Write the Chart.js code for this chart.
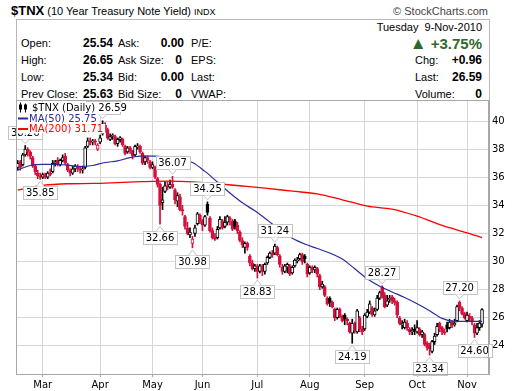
<!DOCTYPE html>
<html>
<head>
<meta charset="utf-8">
<script src="https://cdn.jsdelivr.net/npm/chart.js@4.4.0/dist/chart.umd.min.js"></script>
<style>
  body { margin: 0; background: #fff; }
  #wrap { position: relative; width: 520px; height: 391px; overflow: hidden; font-family: "Liberation Sans", Arial, sans-serif; color: #000; }
  #chart { position: absolute; left: 0; top: 0; z-index: 2; }
  .t { position: absolute; white-space: nowrap; font-size: 11px; line-height: 13px; }
  .v { position: absolute; white-space: nowrap; font-size: 12px; line-height: 13px; font-weight: bold; text-align: right; }
  #box { position: absolute; left: 16px; top: 19px; width: 474px; height: 82px; box-sizing: border-box; border: 1px solid #b8b8b8; }
</style>
</head>
<body>
<div id="wrap">
  <div class="t" style="left:11px;top:3px;line-height:15px;"><b style="font-size:13px;">$TNX</b> (10 Year Treasury Note Yield) <span style="font-size:9px;">INDX</span></div>
  <div class="t" style="right:32px;top:5px;color:#444;">&copy; StockCharts.com</div>
  <div id="box"></div>

  <div class="t" style="left:21px;top:37px;">Open:</div>
  <div class="t" style="left:21px;top:54px;">High:</div>
  <div class="t" style="left:21px;top:71px;">Low:</div>
  <div class="t" style="left:21px;top:88px;">Prev Close:</div>
  <div class="v" style="right:407px;top:37px;">25.54</div>
  <div class="v" style="right:407px;top:54px;">26.65</div>
  <div class="v" style="right:407px;top:71px;">25.34</div>
  <div class="v" style="right:407px;top:88px;">25.63</div>

  <div class="t" style="left:118px;top:37px;">Ask:</div>
  <div class="t" style="left:118px;top:54px;">Ask Size:</div>
  <div class="t" style="left:118px;top:71px;">Bid:</div>
  <div class="t" style="left:118px;top:88px;">Bid Size:</div>
  <div class="v" style="right:336px;top:37px;">0.00</div>
  <div class="v" style="right:338px;top:54px;">0</div>
  <div class="v" style="right:336px;top:71px;">0.00</div>
  <div class="v" style="right:338px;top:88px;">0</div>

  <div class="t" style="left:191px;top:37px;">P/E:</div>
  <div class="t" style="left:191px;top:54px;">EPS:</div>
  <div class="t" style="left:191px;top:71px;">Last:</div>
  <div class="t" style="left:191px;top:88px;">VWAP:</div>

  <div class="t" style="right:38px;top:21px;">Tuesday&nbsp;&nbsp;9-Nov-2010</div>
  <div class="v" style="right:38px;top:35px;font-size:15px;line-height:17px;color:#2d6a2d;"><span style="font-size:17px;">&#9650;</span> +3.75%</div>
  <div class="t" style="left:415px;top:54px;">Chg:</div>
  <div class="t" style="left:415px;top:71px;">Last:</div>
  <div class="t" style="left:415px;top:88px;">Volume:</div>
  <div class="v" style="right:38px;top:54px;">+0.96</div>
  <div class="v" style="right:38px;top:71px;">26.59</div>
  <div class="v" style="right:38px;top:88px;">0</div>

  <canvas id="chart" width="520" height="391"></canvas>
</div>
<script>
// daily $TNX candles, 12-Feb-2010 .. 9-Nov-2010 (index = trading day)
const opens = [
  36.7,37.1,36.9,37.6,38.0,37.8,37.4,36.8,36.3,36.1,
  36.0,36.2,36.0,36.3,36.4,37.0,37.2,36.9,37.2,37.5,36.9,36.5,36.3,36.6,36.8,36.6,36.5,36.7,38.2,38.6,38.5,38.6,38.0,
  38.5,39.1,39.7,39.4,38.7,38.9,38.9,38.4,38.7,38.7,38.2,37.8,38.1,37.9,37.6,38.2,38.2,37.7,37.1,37.4,37.1,
  36.7,36.7,35.9,35.5,34.2,35.0,35.4,35.3,35.5,35.1,34.3,34.6,33.7,33.2,32.4,31.9,31.3,32.0,32.7,33.3,
  32.9,32.6,34.1,33.1,32.2,31.7,31.7,32.4,32.9,32.5,32.8,33.1,32.9,32.9,32.6,32.1,31.5,31.0,31.3,30.4,29.9,29.5,
  29.6,29.3,29.7,29.3,29.9,30.3,30.6,30.6,31.0,30.4,29.6,29.3,29.6,29.7,29.2,29.7,30.1,30.2,30.5,30.4,29.8,
  29.2,29.6,29.4,29.5,29.0,28.2,28.2,27.4,27.4,27.1,26.6,26.0,26.6,26.1,26.2,25.9,25.6,24.9,25.6,25.0,26.0,25.2,
  25.2,26.1,26.4,26.7,26.2,26.6,27.4,28.2,27.6,26.9,27.3,27.5,27.2,27.1,26.0,25.5,25.3,25.6,25.2,25.0,25.2,
  25.0,25.2,24.8,24.8,24.2,24.0,23.6,24.3,24.8,25.6,25.3,25.0,25.5,25.3,25.7,25.5,25.8,27.1,26.7,26.3,
  25.8,26.1,26.0,25.5,24.9,25.3,25.54
];
const highs = [
  37.2,37.2,37.7,38.26,38.1,37.9,37.5,36.9,36.5,36.3,
  36.3,36.3,36.4,36.6,37.2,37.2,37.4,37.3,37.6,37.7,37.0,36.6,36.8,36.9,36.9,36.8,36.8,38.2,38.8,38.8,38.7,38.7,38.4,
  39.0,40.02,39.9,39.5,39.1,39.1,39.0,38.8,38.9,38.8,38.3,38.2,38.2,37.9,38.3,38.4,38.3,37.8,37.5,37.5,37.2,
  37.1,36.8,36.0,35.6,35.3,35.7,35.7,35.8,36.07,35.2,34.9,34.8,34.0,33.3,32.8,32.4,31.8,32.6,33.5,33.4,
  33.0,33.3,34.25,33.2,32.4,32.0,32.5,33.2,33.0,33.2,33.3,33.2,33.0,33.0,32.8,32.2,31.7,31.4,31.4,30.5,30.1,29.8,
  29.8,29.8,29.8,29.9,30.4,30.7,30.8,31.24,31.1,30.5,29.8,29.8,29.9,29.8,29.7,30.2,30.3,30.6,30.6,30.5,29.9,
  29.7,29.7,29.7,29.6,29.1,28.6,28.3,27.5,27.5,27.2,26.7,26.7,26.7,26.2,26.3,26.0,25.7,25.9,25.7,26.6,26.1,25.4,
  26.3,26.6,27.2,26.8,26.7,27.6,27.9,28.27,27.8,27.6,27.6,27.6,27.4,27.2,26.1,25.8,25.9,25.8,25.3,25.3,25.5,
  25.8,25.3,25.1,24.9,24.3,24.2,24.4,24.9,25.6,25.7,25.4,25.2,25.7,25.9,25.8,25.9,26.9,27.20,26.8,26.4,
  26.4,26.3,26.1,25.6,25.6,25.8,26.65
];
const lows = [
  36.5,36.5,36.8,37.5,37.5,37.3,36.7,36.2,35.9,35.85,
  35.9,35.9,35.9,36.1,36.3,36.8,36.8,36.8,37.1,36.9,36.4,36.1,36.2,36.4,36.4,36.3,36.3,36.6,38.1,38.3,38.3,38.3,37.9,
  38.4,39.0,39.2,38.7,38.6,38.7,38.3,38.2,38.5,38.2,37.6,37.7,37.7,37.3,37.5,38.0,37.7,36.9,36.9,37.0,36.6,
  36.6,35.9,35.3,32.66,33.7,34.9,35.1,35.2,35.2,34.1,33.9,33.6,33.3,32.3,31.9,31.7,30.98,31.8,32.6,32.7,
  32.2,32.5,33.3,32.1,31.6,31.5,31.6,32.3,32.3,32.4,32.6,32.6,32.2,32.3,32.0,31.4,31.0,30.6,30.8,29.7,29.4,29.3,
  28.83,29.2,29.0,29.1,29.8,30.2,30.3,30.5,30.4,29.6,29.1,29.2,29.2,29.0,29.1,29.6,29.9,30.1,29.8,29.9,28.9,
  29.1,29.2,29.2,28.9,28.0,28.1,27.5,26.9,26.8,26.7,25.8,25.9,26.0,25.7,25.5,25.5,24.9,24.19,24.9,24.9,25.0,24.8,
  25.1,26.0,26.3,26.1,26.1,26.5,27.3,27.4,26.7,26.8,27.1,27.0,26.9,26.0,25.5,25.2,25.2,25.1,24.8,24.8,24.8,
  24.9,24.7,24.6,24.0,23.7,23.34,23.5,24.1,24.7,25.0,24.8,24.8,25.0,25.2,25.3,25.4,25.7,26.5,26.2,25.9,
  25.7,25.8,25.5,24.60,24.8,25.1,25.34
];
const closes = [
  37.0,36.7,37.6,38.0,37.8,37.5,36.8,36.4,36.1,36.0,
  36.2,36.0,36.3,36.2,37.0,37.1,36.9,37.2,37.4,37.0,36.5,36.3,36.6,36.8,36.6,36.5,36.6,38.1,38.6,38.5,38.6,38.5,38.3,
  38.8,39.8,39.4,38.8,38.9,39.0,38.4,38.7,38.8,38.3,37.7,38.1,37.9,37.5,38.2,38.2,37.8,37.0,37.4,37.2,36.7,
  36.9,36.0,35.5,34.0,34.4,35.4,35.3,35.5,35.3,34.4,34.7,33.7,33.6,32.5,32.0,32.1,31.6,32.4,33.4,32.9,
  32.6,33.2,33.5,32.2,31.7,31.6,32.3,33.0,32.4,32.8,33.2,33.0,32.3,32.5,32.2,31.5,31.2,31.3,31.0,29.9,29.5,29.7,
  29.3,29.7,29.3,29.8,30.3,30.6,30.5,31.1,30.5,29.8,29.3,29.7,29.8,29.1,29.6,30.1,30.1,30.5,30.0,30.2,29.1,
  29.6,29.4,29.6,29.1,28.2,28.4,27.6,27.0,27.1,26.8,26.0,26.6,26.1,25.8,25.9,25.8,25.0,25.6,25.1,26.5,25.2,25.0,
  26.2,26.4,27.0,26.2,26.5,27.4,27.8,27.5,26.8,27.2,27.4,27.2,27.1,26.2,25.6,25.6,25.7,25.3,25.0,25.1,25.1,
  25.3,24.8,25.0,24.1,23.9,23.8,24.3,24.7,25.4,25.2,25.0,24.9,25.2,25.7,25.5,25.6,26.8,26.7,26.3,26.0,
  26.2,26.0,25.7,24.9,25.3,25.63,26.59
];

// moving averages, at trading-day indexes
const ma50Days = [0,5,10,15,20,25,30,35,40,45,50,55,60,65,70,75,80,85,90,95,100,105,110,115,120,125,130,135,140,145,150,155,160,165,170,175,180,186];
const ma50 = [36.53,36.84,36.92,36.92,36.86,36.76,36.84,37.05,37.17,37.40,37.52,37.50,37.39,37.28,37.05,36.42,35.66,34.88,34.18,33.61,32.95,32.25,31.66,31.25,30.93,30.61,30.18,29.49,28.78,28.25,27.84,27.44,27.00,26.50,25.96,25.75,25.75,25.75];
const ma200Days = [0,10,20,30,40,50,60,70,80,90,100,110,120,130,140,150,160,170,180,186];
const ma200 = [35.09,35.42,35.54,35.56,35.62,35.69,35.73,35.68,35.54,35.38,35.21,35.01,34.82,34.40,33.95,33.73,33.23,32.58,32.05,31.71];

// axis labels
const months = ["Mar","Apr","May","Jun","Jul","Aug","Sep","Oct","Nov"];
const monthStart = [10,33,54,74,96,117,139,160,180];
const yTicks = [24,26,28,30,32,34,36,38,40];

// flagged highs / lows
const peakIdx = [3,34,62,76,103,146,177];
const troughIdx = [9,57,70,96,134,165,183];

const RED = "#d4103c";
const BLUE = "#2b2b9c";
const FONT = "DejaVu Sans";

const candleColor = (i) => (i > 0 && closes[i] < closes[i - 1]) ? RED : "#000";

const wicks = closes.map((c, i) => ({ x: i, y: [lows[i], highs[i]] }));
const bodies = closes.map((c, i) => {
  const lo = Math.min(opens[i], c), hi = Math.max(opens[i], c);
  return { x: i, y: hi - lo < 0.06 ? [lo - 0.03, hi + 0.03] : [lo, hi] };
});

function drawNote(ctx, x, y, text, up) {
  ctx.font = "10px '" + FONT + "'";
  const w = Math.round(ctx.measureText(text).width) + 5;
  const h = 13;
  const bx = Math.round(x - w / 2) + 0.5;
  const tip = up ? y - 2 : y + 2;
  const edge = up ? tip - 5 : tip + 5;
  const by = up ? Math.round(edge - h) + 0.5 : Math.round(edge) + 0.5;
  ctx.fillStyle = "#fff";
  ctx.strokeStyle = "#c4c4c4";
  ctx.lineWidth = 1;
  ctx.fillRect(bx, by, w, h);
  ctx.strokeRect(bx, by, w, h);
  ctx.beginPath();
  ctx.moveTo(x - 4, up ? by + h : by);
  ctx.lineTo(x, tip);
  ctx.lineTo(x + 4, up ? by + h : by);
  ctx.closePath();
  ctx.fill();
  ctx.beginPath();
  ctx.moveTo(x - 4, up ? by + h : by);
  ctx.lineTo(x, tip);
  ctx.lineTo(x + 4, up ? by + h : by);
  ctx.stroke();
  ctx.fillStyle = "#000";
  ctx.textAlign = "center";
  ctx.textBaseline = "middle";
  ctx.fillText(text, x, by + h / 2 + 0.5);
}

const overlay = {
  id: "overlay",
  afterDatasetsDraw(chart) {
    const { ctx, chartArea: a, scales } = chart;
    const x = scales.x, y = scales.y;
    ctx.save();
    peakIdx.forEach(i => drawNote(ctx, x.getPixelForValue(i), y.getPixelForValue(highs[i]), highs[i].toFixed(2), true));
    troughIdx.forEach(i => drawNote(ctx, x.getPixelForValue(i), y.getPixelForValue(lows[i]), lows[i].toFixed(2), false));

    // frame
    ctx.strokeStyle = "#a8a8a8";
    ctx.lineWidth = 1;
    ctx.strokeRect(Math.round(a.left) + 0.5, Math.round(a.top) + 0.5, Math.round(a.width) - 1, Math.round(a.height));

    // legend
    ctx.font = "10px '" + FONT + "'";
    ctx.textAlign = "left";
    ctx.textBaseline = "middle";
    const rows = [
      { text: "$TNX (Daily) " + closes[closes.length - 1].toFixed(2), color: "#000", y: 107.5 },
      { text: "MA(50) " + ma50[ma50.length - 1].toFixed(2), color: BLUE, y: 118.5 },
      { text: "MA(200) " + ma200[ma200.length - 1].toFixed(2), color: "#ff0000", y: 129 }
    ];
    rows.forEach((r, k) => {
      const tx = k === 0 ? 32 : 29;
      const w = ctx.measureText(r.text).width;
      ctx.fillStyle = "#fff";
      ctx.fillRect(17, r.y - 5, tx - 17 + w + 2, 9.5);
      ctx.fillStyle = r.color;
      ctx.fillText(r.text, tx, r.y + 0.5);
      if (k === 0) {
        ctx.fillStyle = "#000";
        ctx.fillRect(20, r.y - 5, 1, 10);
        ctx.fillRect(19, r.y - 3, 3, 5);
        ctx.fillRect(25, r.y - 4, 1, 9);
        ctx.strokeStyle = "#000";
        ctx.strokeRect(24.5, r.y - 2.5, 2, 4);
      } else {
        ctx.fillStyle = r.color;
        ctx.fillRect(18, r.y - 1, 10, 2);
      }
    });
    ctx.restore();
  }
};

new Chart(document.getElementById("chart"), {
  type: "bar",
  data: {
    datasets: [
      {
        type: "line", data: ma50Days.map((d, k) => ({ x: d, y: ma50[k] })),
        borderColor: BLUE, borderWidth: 1.2, pointRadius: 0, cubicInterpolationMode: "monotone", order: 0
      },
      {
        type: "line", data: ma200Days.map((d, k) => ({ x: d, y: ma200[k] })),
        borderColor: "#ff0000", borderWidth: 1.3, pointRadius: 0, cubicInterpolationMode: "monotone", order: 1
      },
      {
        data: bodies, barThickness: 3, grouped: false, borderSkipped: false, borderWidth: 1,
        backgroundColor: c => closes[c.dataIndex] >= opens[c.dataIndex] ? "#fff" : candleColor(c.dataIndex),
        borderColor: c => candleColor(c.dataIndex), order: 2
      },
      {
        data: wicks, barThickness: 1, grouped: false, borderWidth: 0,
        backgroundColor: c => candleColor(c.dataIndex), order: 3
      }
    ]
  },
  options: {
    responsive: false,
    animation: false,
    events: [],
    layout: { padding: { left: 16, top: 100, right: 0, bottom: 0 } },
    plugins: { legend: { display: false }, tooltip: { enabled: false } },
    scales: {
      x: {
        type: "linear", min: -0.7, max: 188.8, offset: false,
        afterBuildTicks: s => { s.ticks = monthStart.map(v => ({ value: v })); },
        afterFit: s => { s.height = 17; },
        ticks: {
          autoSkip: false, maxRotation: 0, padding: 2, color: "#000",
          font: { family: FONT, size: 10 },
          callback: (v, i) => months[i]
        },
        grid: { color: "#d6d6d6", offset: false, tickLength: 3, tickColor: "#a8a8a8" },
        border: { color: "#a8a8a8" }
      },
      y: {
        position: "right", min: 22, max: 41.5,
        afterBuildTicks: s => { s.ticks = yTicks.map(v => ({ value: v })); },
        afterFit: s => { s.width = 31; },
        ticks: { padding: 3, color: "#000", font: { family: FONT, size: 10 } },
        grid: { color: "#d6d6d6", drawTicks: false },
        border: { color: "#a8a8a8" }
      }
    }
  },
  plugins: [overlay]
});
</script>
</body>
</html>
